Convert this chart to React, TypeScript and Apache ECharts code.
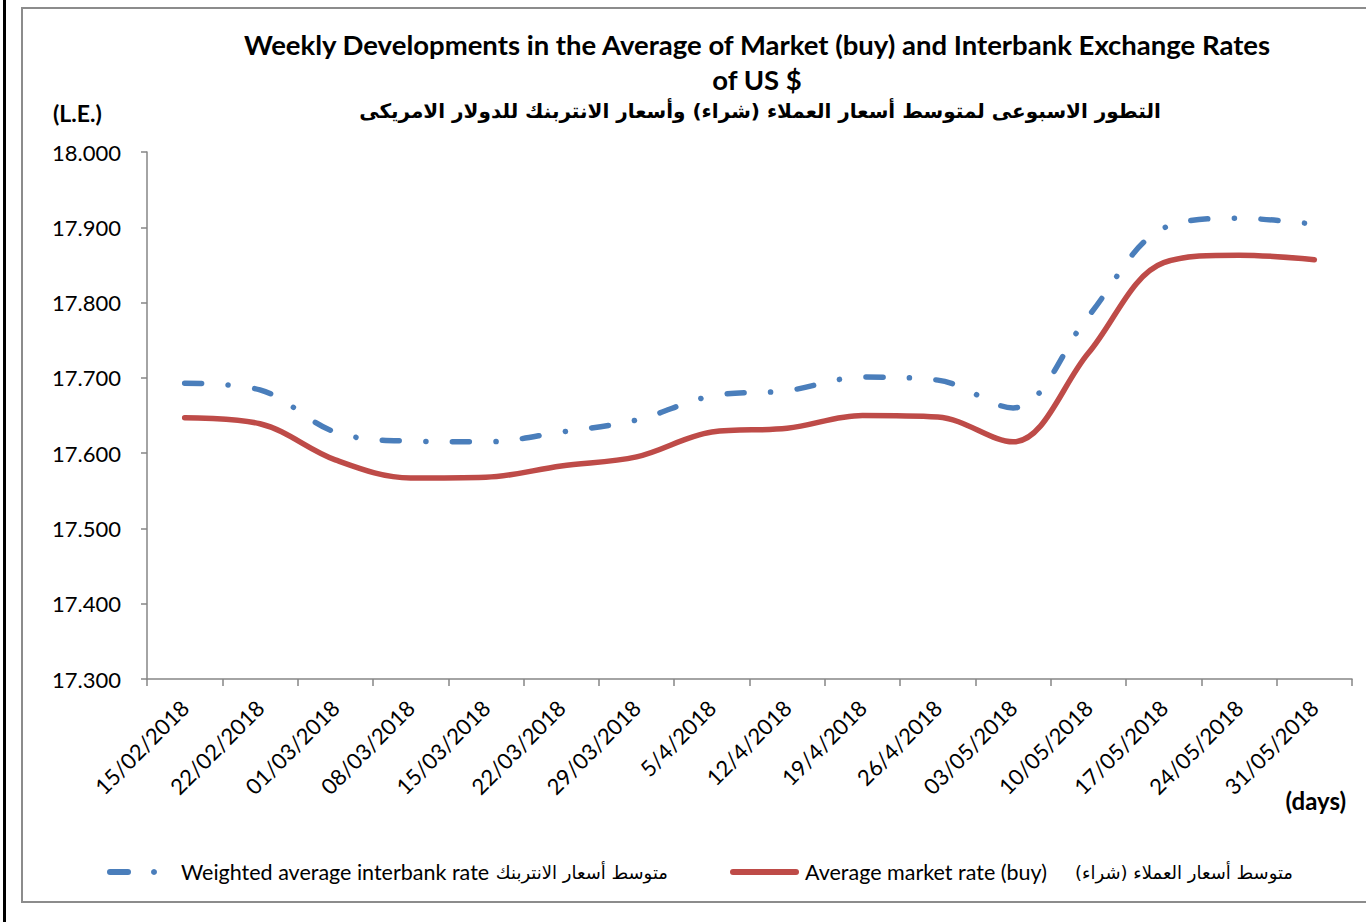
import React, { useEffect, useRef } from "react";
import * as echarts from "echarts";

const categories = [
  "15/02/2018", "22/02/2018", "01/03/2018", "08/03/2018", "15/03/2018", "22/03/2018",
  "29/03/2018", "5/4/2018", "12/4/2018", "19/4/2018", "26/4/2018", "03/05/2018",
  "10/05/2018", "17/05/2018", "24/05/2018", "31/05/2018",
];

const interbankRate = [
  17.693, 17.684, 17.628, 17.616, 17.615, 17.628, 17.644, 17.676,
  17.683, 17.701, 17.697, 17.660, 17.782, 17.899, 17.912, 17.904,
];

const marketRate = [
  17.647, 17.639, 17.591, 17.567, 17.568, 17.583, 17.595, 17.628,
  17.633, 17.650, 17.648, 17.615, 17.733, 17.853, 17.863, 17.857,
];

const yMin = 17.3;
const yMax = 18.0;
const yStep = 0.1;

const titleLine1 = "Weekly Developments in the Average of Market (buy) and Interbank Exchange Rates";
const titleLine2 = "of US $";
const titleArabic = "التطور الاسبوعى لمتوسط أسعار العملاء (شراء) وأسعار الانتربنك للدولار الامريكى";
const yUnit = "(L.E.)";
const xUnit = "(days)";
const legendInterbankEn = "Weighted average interbank rate";
const legendInterbankAr = "متوسط أسعار الانتربنك";
const legendMarketEn = "Average market rate (buy)";
const legendMarketAr = "متوسط أسعار العملاء (شراء)";

const BLUE = "#4A7EBB";
const RED = "#BE4B48";
const AXIS = "#868686";
const FONT = "Lato, 'DejaVu Sans', sans-serif";
const AR_FONT = "'DejaVu Sans', sans-serif";

export default function App() {
  const ref = useRef<HTMLDivElement>(null);

  useEffect(() => {
    if (!ref.current) return;
    const chart = echarts.init(ref.current, null, { renderer: "svg" });
    const txt = (x: number, y: number, text: string, fontSize: number, extra: any = {}) => ({
      type: "text",
      x,
      y,
      style: {
        text,
        fontSize,
        fontFamily: FONT,
        fill: "#000",
        textAlign: "left",
        textVerticalAlign: "middle",
        ...extra,
      },
    });
    const option: any = {
      animation: false,
      backgroundColor: "#ffffff",
      textStyle: { fontFamily: FONT },
      grid: { left: 147, right: 14, top: 152, bottom: 243, containLabel: false },
      xAxis: {
        type: "category",
        data: categories,
        boundaryGap: true,
        axisLine: { show: true, lineStyle: { color: AXIS, width: 1.5 } },
        axisTick: { show: true, length: 7, lineStyle: { color: AXIS, width: 1.5 } },
        axisLabel: {
          interval: 0,
          rotate: 45,
          margin: 25,
          color: "#000",
          fontSize: 22,
          fontFamily: FONT,
        },
        splitLine: { show: false },
      },
      yAxis: {
        type: "value",
        min: yMin,
        max: yMax,
        interval: yStep,
        axisLine: { show: true, lineStyle: { color: AXIS, width: 1.5 } },
        axisTick: { show: true, length: 6, lineStyle: { color: AXIS, width: 1.5 } },
        axisLabel: {
          margin: 26,
          color: "#000",
          fontSize: 22,
          fontFamily: FONT,
          formatter: (v: number) => v.toFixed(3),
        },
        splitLine: { show: false },
      },
      series: [
        {
          name: "interbank",
          type: "line",
          data: interbankRate,
          smooth: 0.35,
          showSymbol: false,
          symbol: "none",
          lineStyle: {
            color: BLUE,
            width: 5.5,
            type: [17, 26.5, 0.1, 26.5],
            cap: "round",
          },
          z: 3,
        },
        {
          name: "market",
          type: "line",
          data: marketRate,
          smooth: 0.35,
          showSymbol: false,
          symbol: "none",
          lineStyle: { color: RED, width: 5.5, cap: "round" },
          z: 2,
        },
      ],
      graphic: [
        { type: "rect", shape: { x: 3, y: 0, width: 3, height: 922 }, style: { fill: "#000" }, silent: true },
        {
          type: "rect",
          shape: { x: 22, y: 8, width: 1400, height: 894 },
          style: { fill: "none", stroke: "#8c8c8c", lineWidth: 2 },
          silent: true,
        },
        txt(757, 44, titleLine1, 27.5, { fontWeight: "bold", textAlign: "center" }),
        txt(757, 79, titleLine2, 27.5, { fontWeight: "bold", textAlign: "center" }),
        txt(760, 111, titleArabic, 20, { fontWeight: "bold", textAlign: "center", fontFamily: AR_FONT }),
        txt(53, 113, yUnit, 23, { fontWeight: "bold" }),
        txt(1346, 800, xUnit, 24, { fontWeight: "bold", textAlign: "right" }),
        {
          type: "line",
          shape: { x1: 110, y1: 872, x2: 128, y2: 872 },
          style: { stroke: BLUE, lineWidth: 6, lineCap: "round" },
        },
        {
          type: "circle",
          shape: { cx: 154, cy: 872, r: 3 },
          style: { fill: BLUE },
        },
        txt(181, 872, legendInterbankEn, 21.5),
        txt(668, 872, legendInterbankAr, 18, { textAlign: "right", fontFamily: AR_FONT }),
        {
          type: "line",
          shape: { x1: 733, y1: 872, x2: 796, y2: 872 },
          style: { stroke: RED, lineWidth: 6, lineCap: "round" },
        },
        txt(805, 872, legendMarketEn, 21.5),
        txt(1293, 872, legendMarketAr, 18, { textAlign: "right", fontFamily: AR_FONT }),
      ],
    };
    chart.setOption(option);
    return () => chart.dispose();
  }, []);

  return (
    <div
      style={{ position: "fixed", left: 0, top: 0, width: 1366, height: 922, background: "#fff" }}
    >
      <div ref={ref} style={{ width: 1366, height: 922 }} />
    </div>
  );
}
